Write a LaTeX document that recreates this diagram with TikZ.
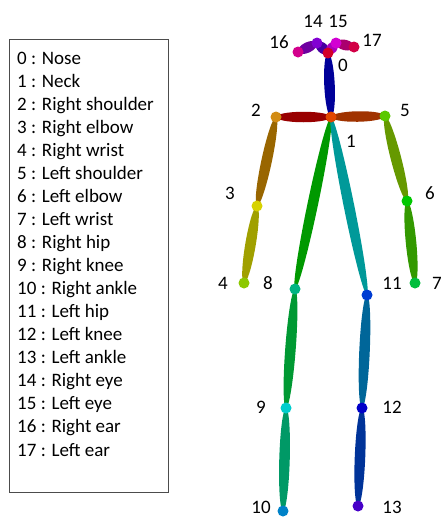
\documentclass[tikz,border=0pt]{standalone}
\usepackage{fontspec}
\setmainfont{Carlito}
\usetikzlibrary{calc}
\usetikzlibrary{shapes.geometric}

% keypoint colours
\definecolor{c0}{RGB}{210,0,40}
\definecolor{c1}{RGB}{225,70,0}
\definecolor{c2}{RGB}{210,140,20}
\definecolor{c3}{RGB}{215,210,0}
\definecolor{c4}{RGB}{140,200,0}
\definecolor{c5}{RGB}{90,200,0}
\definecolor{c6}{RGB}{0,200,0}
\definecolor{c7}{RGB}{0,190,60}
\definecolor{c8}{RGB}{0,180,130}
\definecolor{c9}{RGB}{0,205,205}
\definecolor{c10}{RGB}{0,130,200}
\definecolor{c11}{RGB}{0,60,210}
\definecolor{c12}{RGB}{0,0,200}
\definecolor{c13}{RGB}{70,0,200}
\definecolor{c14}{RGB}{130,0,210}
\definecolor{c15}{RGB}{210,0,210}
\definecolor{c16}{RGB}{210,0,140}
\definecolor{c17}{RGB}{210,0,70}
% limb colours
\definecolor{b12}{RGB}{153,0,0}
\definecolor{b15}{RGB}{160,51,0}
\definecolor{b23}{RGB}{153,102,0}
\definecolor{b34}{RGB}{160,160,0}
\definecolor{b56}{RGB}{102,153,0}
\definecolor{b67}{RGB}{51,153,0}
\definecolor{b18}{RGB}{0,153,0}
\definecolor{b89}{RGB}{0,153,51}
\definecolor{b910}{RGB}{0,153,102}
\definecolor{b111}{RGB}{0,153,153}
\definecolor{b1112}{RGB}{0,102,153}
\definecolor{b1213}{RGB}{0,51,153}
\definecolor{b10}{RGB}{0,0,153}
\definecolor{b014}{RGB}{70,0,160}
\definecolor{b1416}{RGB}{110,0,160}
\definecolor{b015}{RGB}{170,0,190}
\definecolor{b1517}{RGB}{170,0,110}

\begin{document}
\begin{tikzpicture}[x=1pt,y=-1pt]
\tikzstyle{joint} = [circle,inner sep=0pt,minimum size=11pt]
\tikzstyle{limb} = [ellipse,inner sep=0pt,minimum height=10.5pt]
\tikzstyle{num} = [font=\fontsize{19}{23}\selectfont,inner sep=0pt]
\tikzstyle{item} = [font=\fontsize{19}{23}\selectfont,inner sep=0pt,anchor=base west]

\useasboundingbox (0,0) rectangle (443,517);

% joint positions
\foreach \i/\x/\y in {0/328/53, 1/331/117, 2/276/117, 3/257/206, 4/244/283,
  5/385/116, 6/407/201, 7/415/283, 8/295/289, 9/286/408, 10/283/511,
  11/367/295, 12/362/408, 13/358/506, 14/317/43, 15/336/43, 16/298/52, 17/354/47}
  \coordinate (j\i) at (\x,\y);

% limbs
\foreach \a/\b/\c in {1/2/b12, 1/5/b15, 2/3/b23, 3/4/b34, 5/6/b56, 6/7/b67,
  1/8/b18, 8/9/b89, 9/10/b910, 1/11/b111, 11/12/b1112, 12/13/b1213,
  1/0/b10, 0/14/b014, 14/16/b1416, 0/15/b015, 15/17/b1517}
  \path let \p1=($(j\b)-(j\a)$), \n1={veclen(\x1,\y1)} in
    (j\a) -- (j\b) node[limb, fill=\c, minimum width=\n1, midway, sloped] {};

% keypoints
\foreach \i in {0,...,17}
  \node[joint, fill=c\i] (p\i) at (j\i) {};

% keypoint numbers
\foreach \i/\x/\y in {0/343/65, 1/351/141, 2/256/110, 3/230/193, 4/223/283,
  5/405/110, 6/430/193, 7/437/283, 8/268/283, 9/261/407, 10/261/507,
  11/392/283, 12/392/407, 13/392/507, 14/313/21, 15/338/21, 16/279/42, 17/372/40}
  \node[num] (n\i) at (\x,\y) {\i};

% legend
\draw[black!70] (9,39) rectangle (168,492);
\foreach \i/\t in {0/Nose, 1/Neck, 2/Right shoulder, 3/Right elbow, 4/Right wrist,
  5/Left shoulder, 6/Left elbow, 7/Left wrist, 8/Right hip, 9/Right knee,
  10/Right ankle, 11/Left hip, 12/Left knee, 13/Left ankle, 14/Right eye,
  15/Left eye, 16/Right ear, 17/Left ear}
  \node[item] (k\i) at (17,{64+23.06*\i}) {\i\ : \t};

\end{tikzpicture}
\end{document}
